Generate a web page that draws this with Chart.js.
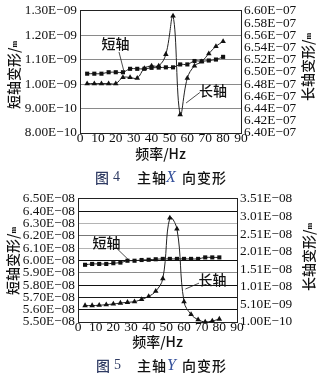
<!DOCTYPE html>
<html lang="zh">
<head>
<meta charset="UTF-8">
<title>主轴变形</title>
<script src="https://cdn.jsdelivr.net/npm/chart.js"></script>
<style>
body { margin: 0; background: #fff; }
.panel { position: absolute; left: 0; width: 324px; height: 188px; }
.cap span, .cap i { position: absolute; top: 167px; line-height: 16px; white-space: pre; }
.cap .zh { font: 500 14px "Noto Sans CJK SC"; color: #111; letter-spacing: 1px; }
.cap .no { font: 500 14px "Noto Sans CJK SC"; color: #2f3b63; }
.cap .num { font: 14px "Liberation Serif"; color: #2f3b63; top: 169px; }
.cap i { font: italic 16px "Liberation Serif"; color: #34509a; top: 168px; }
</style>
</head>
<body>

<div class="panel" style="top:0">
  <canvas id="chartX" width="324" height="188"></canvas>
  <div class="cap">
    <span class="no" style="left:95px">图</span><span class="num" style="left:113px">4</span>
    <span class="zh" style="left:137px">主轴</span><i style="left:166px">X</i>
    <span class="zh" style="left:182px">向变形</span>
  </div>
</div>

<div class="panel" style="top:188px">
  <canvas id="chartY" width="324" height="188"></canvas>
  <div class="cap">
    <span class="no" style="left:96px">图</span><span class="num" style="left:114px">5</span>
    <span class="zh" style="left:137px">主轴</span><i style="left:167px">Y</i>
    <span class="zh" style="left:182px">向变形</span>
  </div>
</div>

<script>
// excitation frequency, Hz
const freq = [4, 8, 12, 16, 20, 24, 28, 32, 36, 40, 44, 48, 52, 56, 60, 64, 68, 72, 76, 80];

// X direction deformation, m
const xShort = [1.043e-9, 1.043e-9, 1.043e-9, 1.049e-9, 1.049e-9, 1.049e-9, 1.063e-9, 1.063e-9, 1.063e-9, 1.067e-9,
                1.068e-9, 1.069e-9, 1.069e-9, 1.081e-9, 1.081e-9, 1.095e-9, 1.094e-9, 1.097e-9, 1.101e-9, 1.112e-9];
const xLong = [6.481e-7, 6.481e-7, 6.481e-7, 6.481e-7, 6.481e-7, 6.491e-7, 6.491e-7, 6.490e-7, 6.506e-7, 6.510e-7,
               6.510e-7, 6.529e-7, 6.592e-7, 6.430e-7, 6.490e-7, 6.510e-7, 6.517e-7, 6.530e-7, 6.542e-7, 6.550e-7];

// Y direction deformation, m
const yShort = [5.965e-8, 5.972e-8, 5.972e-8, 5.972e-8, 5.978e-8, 5.983e-8, 5.998e-8, 5.998e-8, 6.004e-8, 6.006e-8,
                6.010e-8, 6.013e-8, 6.013e-8, 6.013e-8, 6.013e-8, 6.013e-8, 6.013e-8, 6.025e-8, 6.025e-8, 6.025e-8];
const yLong = [4.78e-9, 4.78e-9, 4.86e-9, 5.04e-9, 5.22e-9, 5.49e-9, 5.70e-9, 5.90e-9, 6.54e-9, 7.38e-9,
               8.86e-9, 1.242e-8, 2.970e-8, 2.660e-8, 5.90e-9, 2.26e-9, 7.6e-10, 1.0e-10, 3.8e-10, 9.4e-10];

// axis ticks
const freqTicks = [0, 10, 20, 30, 40, 50, 60, 70, 80, 90];
const xShortTicks = [8.0e-10, 9.0e-10, 1.0e-9, 1.1e-9, 1.2e-9, 1.3e-9];
const xLongTicks = [6.40e-7, 6.42e-7, 6.44e-7, 6.46e-7, 6.48e-7, 6.50e-7, 6.52e-7, 6.54e-7, 6.56e-7, 6.58e-7, 6.60e-7];
const yShortTicks = [5.5e-8, 5.6e-8, 5.7e-8, 5.8e-8, 5.9e-8, 6.0e-8, 6.1e-8, 6.2e-8, 6.3e-8, 6.4e-8, 6.5e-8];
const yLongTicks = [1.0e-10, 5.1e-9, 1.01e-8, 1.51e-8, 2.01e-8, 2.51e-8, 3.01e-8, 3.51e-8];

// gridline shades, bottom to top
const xGridShades = ['#222', '#8a8a8a', '#8a8a8a', '#8a8a8a', '#8a8a8a', '#222'];
const yGridShades = ['#222', '#111', '#1a1a1a', '#111', '#8a8a8a', '#111', '#b4b4b4', '#777', '#b4b4b4', '#111', '#222'];

const INK = '#111';
const SERIF = '"Liberation Serif", "Times New Roman", serif';
const CJK = '"Noto Sans CJK SC", sans-serif';

// 1.30E−09 style labels
function sci(v) {
  const [m, e] = v.toExponential(2).split('e');
  const n = Math.abs(parseInt(e, 10));
  return m + 'E' + (e[0] === '-' ? '−' : '+') + String(n).padStart(2, '0');
}

function pts(vals) {
  return freq.map((f, i) => ({ x: f, y: vals[i] }));
}

// vertical axis names, read bottom to top, with a small unit letter
function drawSideName(ctx, text, x, y) {
  ctx.save();
  ctx.translate(x, y);
  ctx.rotate(-Math.PI / 2);
  ctx.fillStyle = INK;
  ctx.textBaseline = 'middle';
  ctx.font = '500 14px ' + CJK;
  const w1 = ctx.measureText(text + '/').width;
  ctx.font = 'bold 8px ' + SERIF;
  const w2 = ctx.measureText('m').width;
  const sx = -(w1 + w2) / 2;
  ctx.font = '500 14px ' + CJK;
  ctx.fillText(text + '/', sx, 0);
  ctx.font = 'bold 8px ' + SERIF;
  ctx.fillText('m', sx + w1, 1);
  ctx.restore();
}

const sideNames = {
  id: 'sideNames',
  afterDraw(chart, args, opts) {
    drawSideName(chart.ctx, opts.left, opts.leftX, opts.leftY);
    drawSideName(chart.ctx, opts.right, opts.rightX, opts.rightY);
  }
};

// series names with leader lines, placed in left-axis units
const callouts = {
  id: 'callouts',
  afterDatasetsDraw(chart, args, opts) {
    const { ctx, scales: { x, y } } = chart;
    ctx.save();
    ctx.strokeStyle = '#222';
    ctx.lineWidth = 0.8;
    ctx.fillStyle = INK;
    ctx.font = '500 14px ' + CJK;
    ctx.textAlign = 'center';
    ctx.textBaseline = 'middle';
    for (const c of opts.items) {
      ctx.beginPath();
      ctx.moveTo(x.getPixelForValue(c.from[0]), y.getPixelForValue(c.from[1]));
      ctx.lineTo(x.getPixelForValue(c.to[0]), y.getPixelForValue(c.to[1]));
      ctx.stroke();
      ctx.fillText(c.text, x.getPixelForValue(c.at[0]), y.getPixelForValue(c.at[1]));
    }
    ctx.restore();
  }
};

function series(vals, axis, style, radius) {
  return {
    data: pts(vals),
    yAxisID: axis,
    borderColor: '#222',
    borderWidth: 1,
    backgroundColor: INK,
    pointStyle: style,
    pointRadius: radius,
    pointBorderWidth: 0,
    pointBackgroundColor: INK,
    tension: 0.4,
    clip: false
  };
}

function makeChart(id, o) {
  return new Chart(document.getElementById(id), {
    type: 'line',
    data: {
      datasets: [
        series(o.shortVals, 'y', 'rect', 2.9),
        series(o.longVals, 'y1', 'triangle', 3.2)
      ]
    },
    options: {
      responsive: false,
      animation: false,
      layout: { padding: { top: 8, bottom: 0, left: 0, right: 0 } },
      plugins: {
        legend: { display: false },
        tooltip: { enabled: false },
        sideNames: o.names,
        callouts: { items: o.notes }
      },
      scales: {
        x: {
          type: 'linear',
          min: 0,
          max: 90,
          afterBuildTicks: s => { s.ticks = freqTicks.map(v => ({ value: v })); },
          afterFit: s => { s.height = 188 - o.bottom; },
          grid: { display: false, drawTicks: false },
          border: { display: true, color: '#222', width: 1 },
          ticks: { color: INK, padding: -1, maxRotation: 0, autoSkip: false,
                   font: { family: SERIF, size: 13.5, lineHeight: 1 } },
          title: { display: true, text: '频率/Hz', color: INK,
                   font: { family: CJK, size: 14, weight: 500, lineHeight: 1.2 }, padding: { top: 0, bottom: 26 } }
        },
        y: {
          position: 'left',
          min: o.shortTicks[0],
          max: o.shortTicks[o.shortTicks.length - 1],
          afterBuildTicks: s => { s.ticks = o.shortTicks.map(v => ({ value: v })); },
          afterFit: s => { s.width = o.left; },
          grid: { drawTicks: false, lineWidth: 1, color: c => o.shades[c.index] || '#888' },
          border: { display: true, color: '#222', width: 1 },
          ticks: { color: INK, padding: 3, autoSkip: false, callback: v => sci(v),
                   font: { family: SERIF, size: 13.3 } }
        },
        y1: {
          position: 'right',
          min: o.longTicks[0],
          max: o.longTicks[o.longTicks.length - 1],
          afterBuildTicks: s => { s.ticks = o.longTicks.map(v => ({ value: v })); },
          afterFit: s => { s.width = 324 - o.right; },
          grid: { display: false, drawTicks: false },
          border: { display: true, color: '#222', width: 1 },
          ticks: { color: INK, padding: 3, autoSkip: false, callback: v => sci(v),
                   font: { family: SERIF, size: 13.3 } }
        }
      }
    },
    plugins: [sideNames, callouts]
  });
}

makeChart('chartX', {
  shortVals: xShort,
  longVals: xLong,
  shortTicks: xShortTicks,
  longTicks: xLongTicks,
  shades: xGridShades,
  left: 80,
  right: 241,
  bottom: 133,
  names: { left: '短轴变形', leftX: 14, leftY: 75, right: '长轴变形', rightX: 308, rightY: 67 },
  notes: [
    { text: '短轴', at: [19.8, 1.164e-9], from: [21.8, 1.132e-9], to: [24.4, 1.057e-9] },
    { text: '长轴', at: [74.3, 0.972e-9], from: [67.0, 0.966e-9], to: [59.3, 0.923e-9] }
  ]
});

makeChart('chartY', {
  shortVals: yShort,
  longVals: yLong,
  shortTicks: yShortTicks,
  longTicks: yLongTicks,
  shades: yGridShades,
  left: 78,
  right: 237,
  bottom: 134,
  names: { left: '短轴变形', leftX: 13, leftY: 73, right: '长轴变形', rightX: 309, rightY: 69 },
  notes: [
    { text: '短轴', at: [16.1, 6.148e-8], from: [22.1, 6.096e-8], to: [28.3, 6.010e-8] },
    { text: '长轴', at: [76.1, 5.844e-8], from: [68.5, 5.816e-8], to: [60.8, 5.768e-8] }
  ]
});
</script>

</body>
</html>
